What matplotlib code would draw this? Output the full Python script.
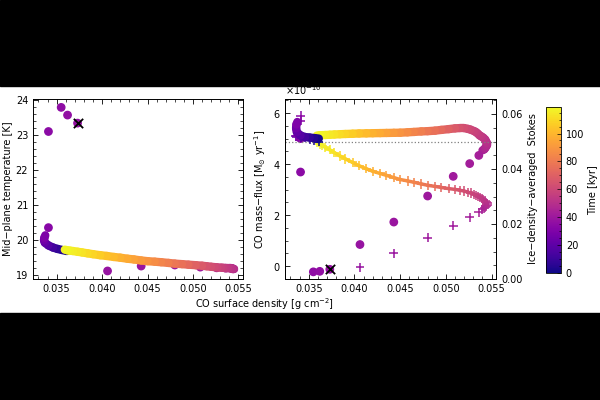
import numpy as np
import matplotlib
matplotlib.use('Agg')
import matplotlib.pyplot as plt
from matplotlib.collections import LineCollection
from matplotlib.patches import Rectangle
from matplotlib.colors import Normalize
from matplotlib.ticker import MultipleLocator, FormatStrFormatter

# early phase, t = 0-32 kyr
t_early = [0, 3, 6, 10, 15, 20, 24, 28, 32]
sig_early = [0.0361, 0.0356, 0.0351, 0.0346, 0.0341, 0.0337, 0.03361, 0.03365, 0.03375]
temp_early = [19.68, 19.71, 19.74, 19.78, 19.84, 19.92, 19.99, 20.06, 20.13]
flux_early = [5.00, 5.02, 5.04, 5.06, 5.12, 5.25, 5.40, 5.55, 5.65]   # x1e-10
stokes_early = [0.0500, 0.0505, 0.0510, 0.0514, 0.0516, 0.0518, 0.0519, 0.0519, 0.0519]

# fast excursion, sparse outputs
t_fast = [33, 34, 35, 36, 37, 38, 39, 40, 41, 42, 43]
sig_fast = [0.0341, 0.0341, 0.0355, 0.0362, 0.0373, 0.0406, 0.0443, 0.0480, 0.0508, 0.0526, 0.0536]
temp_fast = [20.35, 23.10, 23.79, 23.57, 23.34, 19.11, 19.25, 19.28, 19.22, 19.20, 19.19]
flux_fast = [5.00, 3.69, -0.22, -0.20, -0.12, 0.85, 1.73, 2.75, 3.52, 4.02, 4.34]
stokes_fast = [0.0576, 0.0594, np.nan, np.nan, np.nan, 0.0043, 0.0094, 0.0150, 0.0194, 0.0224, 0.0242]
i_cross = 4

# slow phase, t = 44-119 kyr
t_slow = [44, 45, 46, 47, 48, 49, 50, 51, 52, 53, 54, 55, 56, 57, 59, 60, 62, 64, 66, 69, 72,
          75, 78, 80, 83, 85, 88, 90, 93, 95, 98, 100, 103, 105, 108, 110, 112, 114, 115, 116, 117, 119]
sig_slow = [0.0540, 0.0542, 0.0543, 0.0544, 0.0545, 0.0545, 0.0544, 0.0543, 0.0541, 0.0539, 0.0537,
            0.0535, 0.0533, 0.0531, 0.0527, 0.0524, 0.0520, 0.0515, 0.0510, 0.0503, 0.0495,
            0.0488, 0.0480, 0.0473, 0.0465, 0.0458, 0.0450, 0.0443, 0.0435, 0.0428, 0.0420,
            0.0413, 0.0405, 0.0398, 0.0390, 0.0384, 0.0378, 0.0373, 0.0368, 0.0365, 0.0362, 0.0359]
temp_slow = [19.19, 19.19, 19.185, 19.18, 19.18, 19.18, 19.18, 19.18, 19.185, 19.19, 19.19,
             19.195, 19.20, 19.205, 19.21, 19.22, 19.23, 19.245, 19.26, 19.275, 19.29,
             19.305, 19.32, 19.34, 19.36, 19.375, 19.39, 19.41, 19.44, 19.46, 19.49,
             19.51, 19.54, 19.56, 19.59, 19.615, 19.64, 19.66, 19.68, 19.69, 19.70, 19.72]
flux_slow = [4.54, 4.58, 4.63, 4.69, 4.75, 4.82, 4.88, 4.96, 5.03, 5.08, 5.12,
             5.19, 5.25, 5.29, 5.35, 5.38, 5.41, 5.41, 5.40, 5.37, 5.34,
             5.31, 5.29, 5.28, 5.26, 5.245, 5.23, 5.225, 5.22, 5.215, 5.21,
             5.205, 5.20, 5.19, 5.18, 5.17, 5.16, 5.15, 5.14, 5.135, 5.13, 5.12]
stokes_slow = [0.0253, 0.0258, 0.0262, 0.0266, 0.0271, 0.0275, 0.0279, 0.0284, 0.0288, 0.0293, 0.0297,
               0.0301, 0.0305, 0.0308, 0.0313, 0.0316, 0.0320, 0.0323, 0.0326, 0.0329, 0.0333,
               0.0337, 0.0341, 0.0346, 0.0352, 0.0357, 0.0362, 0.0369, 0.0377, 0.0384, 0.0392,
               0.0401, 0.0412, 0.0424, 0.0437, 0.0448, 0.0460, 0.0470, 0.0479, 0.0485, 0.0491, 0.0497]

stokes_ref = 0.05
t_max = 119

plt.rcParams['font.family'] = 'DejaVu Sans'
plt.rcParams['font.size'] = 7
plt.rcParams['axes.linewidth'] = 0.7

norm = Normalize(0, t_max)
cmap = 'plasma'


def trail(ax, x, y, t, lw, z=2, transform=None):
    pts = np.column_stack([x, y]).reshape(-1, 1, 2)
    segs = np.concatenate([pts[:-1], pts[1:]], axis=1)
    lc = LineCollection(segs, cmap=cmap, norm=norm, linewidths=lw, capstyle='round', zorder=z)
    tt = np.array(t, dtype=float)
    lc.set_array((tt[:-1] + tt[1:]) / 2)
    if transform is not None:
        lc.set_transform(transform)
        ax.add_collection(lc, autolim=False)
    else:
        ax.add_collection(lc)


def style(ax, right=True):
    ax.tick_params(which='both', direction='in', top=True, right=right, labelsize=7)
    ax.tick_params(which='major', length=3.5, width=0.6)
    ax.tick_params(which='minor', length=2, width=0.5)


fig = plt.figure(figsize=(6, 4), dpi=100)
fig.patches.append(Rectangle((0, 1 - 86 / 400), 1, 86 / 400, transform=fig.transFigure, color='black', zorder=-1))
fig.patches.append(Rectangle((0, 0), 1, 87 / 400, transform=fig.transFigure, color='black', zorder=-1))

ax1 = fig.add_axes([0.055, 0.3025, 0.35, 0.45])
ax2 = fig.add_axes([0.475, 0.3025, 0.352, 0.45])
ax3 = ax2.twinx()
cax = fig.add_axes([0.91, 0.3175, 0.025, 0.415])

# left panel
trail(ax1, sig_early, temp_early, t_early, 6)
ax1.scatter(sig_fast, temp_fast, c=t_fast, cmap=cmap, norm=norm, s=28, zorder=2)
ax1.scatter(sig_fast[i_cross], temp_fast[i_cross], marker='x', color='black', s=45, linewidths=1.3, zorder=3)
trail(ax1, sig_slow, temp_slow, t_slow, 6)
ax1.set_xlim(0.0324, 0.0555)
ax1.set_ylim(18.88, 24.03)
ax1.xaxis.set_major_locator(MultipleLocator(0.005))
ax1.xaxis.set_minor_locator(MultipleLocator(0.001))
ax1.xaxis.set_major_formatter(FormatStrFormatter('%.3f'))
ax1.yaxis.set_major_locator(MultipleLocator(1))
ax1.yaxis.set_minor_locator(MultipleLocator(0.2))
ax1.set_ylabel('Mid\u2212plane temperature [K]', labelpad=2)
style(ax1)

# right panel: mass flux (circles) and Stokes number (pluses)
flux_e = np.array(flux_early) * 1e-10
flux_f = np.array(flux_fast) * 1e-10
flux_s = np.array(flux_slow) * 1e-10
trail(ax2, sig_slow, flux_s, t_slow, 6)
ax2.scatter(sig_fast, flux_f, c=t_fast, cmap=cmap, norm=norm, s=28, zorder=2)
ax2.scatter(sig_fast[i_cross], flux_f[i_cross], marker='x', color='black', s=45, linewidths=1.3, zorder=3)
ax2.set_xlim(0.0324, 0.0555)
ax2.set_ylim(-0.5e-10, 6.55e-10)
ax2.xaxis.set_major_locator(MultipleLocator(0.005))
ax2.xaxis.set_minor_locator(MultipleLocator(0.001))
ax2.xaxis.set_major_formatter(FormatStrFormatter('%.3f'))
ax2.yaxis.set_major_locator(MultipleLocator(2e-10))
ax2.yaxis.set_minor_locator(MultipleLocator(0.5e-10))
ax2.ticklabel_format(axis='y', style='sci', scilimits=(0, 0), useMathText=True)
ax2.yaxis.get_offset_text().set_fontsize(7)
ax2.set_ylabel('CO mass\u2212flux [M$_{\\odot}$ yr$^{-1}$]', labelpad=3)
style(ax2, right=False)

trail(ax3, sig_slow, stokes_slow, t_slow, 2.5)
ax3.scatter(sig_slow, stokes_slow, c=t_slow, cmap=cmap, norm=norm, marker='+', s=45, linewidths=1.1)
ax3.scatter(sig_fast, stokes_fast, c=t_fast, cmap=cmap, norm=norm, marker='+', s=40, linewidths=1.1)
# early blue/purple part sits on top where both series meet
trail(ax3, sig_early, stokes_early, t_early, 2.5, z=3)
ax3.scatter(sig_early, stokes_early, c=t_early, cmap=cmap, norm=norm, marker='+', s=45, linewidths=1.1, zorder=3)
trail(ax3, sig_early, flux_e, t_early, 6, z=3, transform=ax2.transData)
ax3.axhline(stokes_ref, color='gray', ls=':', lw=0.9)
ax3.set_ylim(0, 0.0655)
ax3.yaxis.set_major_locator(MultipleLocator(0.02))
ax3.yaxis.set_minor_locator(MultipleLocator(0.005))
ax3.yaxis.set_major_formatter(FormatStrFormatter('%.2f'))
ax3.tick_params(which='both', direction='in', labelsize=7)
ax3.tick_params(which='major', length=3.5, width=0.6)
ax3.tick_params(which='minor', length=2, width=0.5)
ax3.set_ylabel('Ice\u2212density\u2212averaged  Stokes', labelpad=4)

fig.text(0.441, 0.24, 'CO surface density [g cm$^{-2}$]', ha='center', va='center', fontsize=7)

sm = plt.cm.ScalarMappable(norm=norm, cmap=cmap)
cb = fig.colorbar(sm, cax=cax)
cb.set_ticks([0, 20, 40, 60, 80, 100])
cb.ax.yaxis.set_minor_locator(MultipleLocator(5))
cb.ax.tick_params(which='both', direction='in', labelsize=7, width=0.5)
cb.ax.tick_params(which='major', length=3)
cb.ax.tick_params(which='minor', length=1.5)
cb.outline.set_linewidth(0.6)
cb.set_label('Time [kyr]', labelpad=3)

fig.savefig('out.png', dpi=100)
